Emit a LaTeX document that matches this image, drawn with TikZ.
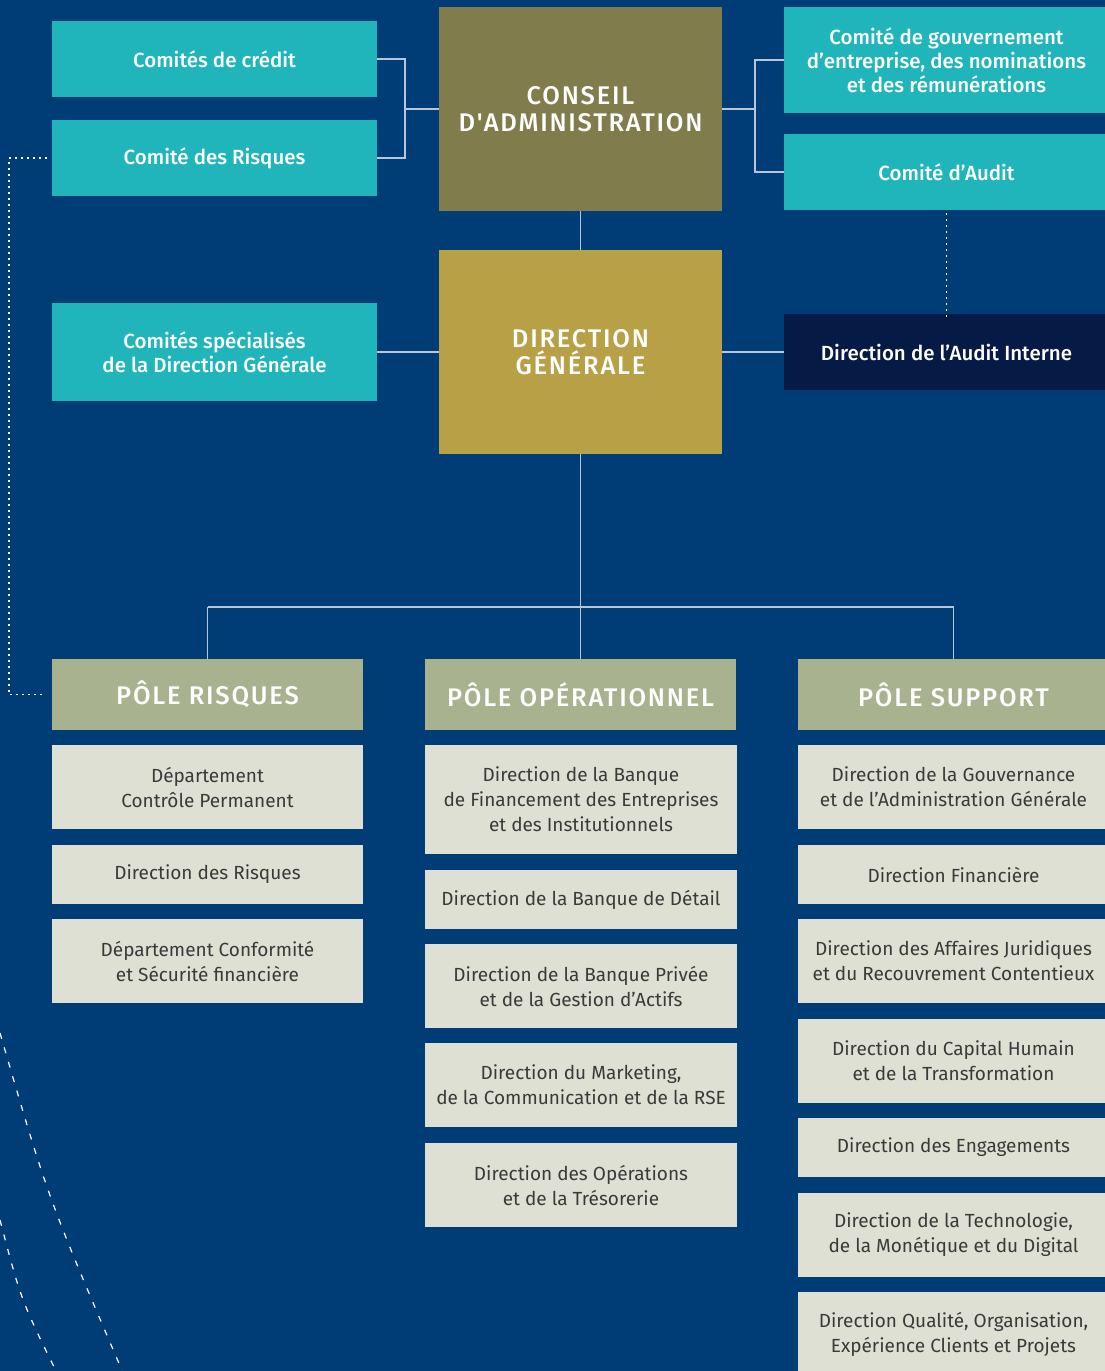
\documentclass[tikz,border=0pt]{standalone}
\usepackage{fontspec}
\setmainfont{Fira Sans}
\newfontfamily\medfont{Fira Sans Medium}
\newfontfamily\headfont[LetterSpace=7]{Fira Sans Medium}
\definecolor{bgblue}{HTML}{003C75}
\definecolor{teal}{HTML}{1FB5BB}
\definecolor{olive}{HTML}{807C4C}
\definecolor{gold}{HTML}{B8A046}
\definecolor{navy}{HTML}{051B45}
\definecolor{pole}{HTML}{A9B28F}
\definecolor{subbox}{HTML}{DFE0D4}
\definecolor{subtext}{HTML}{3A3A3A}
\definecolor{linec}{HTML}{B8C6DA}
\begin{document}
\begin{tikzpicture}[x=1pt,y=-1pt,
  every node/.style={inner sep=0pt, outer sep=0pt, align=center},
  teal box/.style={fill=teal, text=white, minimum width=325pt, font=\medfont\fontsize{20.5}{24}\selectfont},
  big box/.style={minimum width=283pt, minimum height=204pt, text=white, font=\headfont\fontsize{25.5}{27}\selectfont},
  pole box/.style={fill=pole, text=white, minimum width=311pt, minimum height=71pt, font=\headfont\fontsize{25.5}{27}\selectfont},
  sub box/.style={fill=subbox, text=subtext, minimum width=311pt, font=\fontsize{19}{25}\selectfont},
  conn/.style={draw=linec, line width=1.3pt},
  dotline/.style={draw=white, line width=1.6pt, dash pattern=on 1.6pt off 4.4pt},
  arcline/.style={draw=white, line width=1.2pt, dash pattern=on 6pt off 9pt}
]
\fill[bgblue] (0,0) rectangle (1105,1371);
\useasboundingbox (0,0) rectangle (1105,1371);

% dashed arcs
\draw[arcline] (0,1033) .. controls (48,1198) .. (124,1375);
\draw[arcline] (0,1220) .. controls (21,1300) .. (58,1375);

% top nodes
\node[teal box, minimum height=76pt] (cred) at (214.5,59) {Comités de crédit};
\node[teal box, minimum height=76pt] (risq) at (214.5,158) {Comité des Risques};
\node[teal box, minimum height=98pt] (spec) at (214.5,352) {Comités spécialisés\\de la Direction Générale};
\node[big box, fill=olive] (ca) at (580.5,109) {CONSEIL\\D'ADMINISTRATION};
\node[big box, fill=gold] (dg) at (580.5,352) {DIRECTION\\GÉNÉRALE};
\node[teal box, minimum height=106pt] (gouv) at (946.5,60) {Comité de gouvernement\\d’entreprise, des nominations\\et des rémunérations};
\node[teal box, minimum height=76pt] (audit) at (946.5,172) {Comité d’Audit};
\node[teal box, fill=navy, minimum height=76pt] (dai) at (946.5,352) {Direction de l’Audit Interne};

% poles
\node[pole box] (pr) at (207.5,694.5) {PÔLE RISQUES};
\node[pole box] (po) at (580.5,694.5) {PÔLE OPÉRATIONNEL};
\node[pole box] (ps) at (953.5,694.5) {PÔLE SUPPORT};

% sub boxes: risques
\node[sub box, minimum height=84pt] (r1) at (207.5,787) {Département\\Contrôle Permanent};
\node[sub box, minimum height=59pt] (r2) at (207.5,874.5) {Direction des Risques};
\node[sub box, minimum height=84pt] (r3) at (207.5,961) {Département Conformité\\et Sécurité financière};
% operationnel
\node[sub box, minimum width=312pt, minimum height=109pt] (o1) at (581,799.5) {Direction de la Banque\\de Financement des Entreprises\\et des Institutionnels};
\node[sub box, minimum width=312pt, minimum height=59pt] (o2) at (581,899.5) {Direction de la Banque de Détail};
\node[sub box, minimum width=312pt, minimum height=84pt] (o3) at (581,986) {Direction de la Banque Privée\\et de la Gestion d’Actifs};
\node[sub box, minimum width=312pt, minimum height=84pt] (o4) at (581,1085) {Direction du Marketing,\\de la Communication et de la RSE};
\node[sub box, minimum width=312pt, minimum height=84pt] (o5) at (581,1185) {Direction des Opérations\\et de la Trésorerie};
% support
\node[sub box, minimum height=84pt] (s1) at (953.5,787) {Direction de la Gouvernance\\et de l’Administration Générale};
\node[sub box, minimum height=59pt] (s2) at (953.5,874.5) {Direction Financière};
\node[sub box, minimum height=84pt] (s3) at (953.5,961) {Direction des Affaires Juridiques\\et du Recouvrement Contentieux};
\node[sub box, minimum height=84pt] (s4) at (953.5,1061) {Direction du Capital Humain\\et de la Transformation};
\node[sub box, minimum height=59pt] (s5) at (953.5,1147.5) {Direction des Engagements};
\node[sub box, minimum height=84pt] (s6) at (953.5,1235) {Direction de la Technologie,\\de la Monétique et du Digital};
\node[sub box, minimum height=84pt] (s7) at (953.5,1334) {Direction Qualité, Organisation,\\Expérience Clients et Projets};

% connectors
\coordinate (jl) at (405,109);
\coordinate (jr) at (755,109);
\draw[conn] (cred.east) -| (jl) |- (risq.east);
\draw[conn] (jl) -- (ca.west);
\draw[conn] (gouv.west) -| (jr) |- (audit.west);
\draw[conn] (jr) -- (ca.east);
\draw[conn] (ca.south) -- (dg.north);
\draw[conn] (spec.east) -- (dg.west);
\draw[conn] (dg.east) -- (dai.west);
\coordinate (hub) at (580.5,607);
\draw[conn] (dg.south) -- (hub);
\draw[conn] (pr.north |- hub) -- (ps.north |- hub);
\draw[conn] (pr.north |- hub) -- (pr.north);
\draw[conn] (hub) -- (po.north);
\draw[conn] (ps.north |- hub) -- (ps.north);
\draw[dotline] (audit.south) ++(0,3) -- ([yshift=-3pt]dai.north);
\coordinate (d1) at ([xshift=-5pt]risq.west);
\coordinate (d2) at ([xshift=-6pt]pr.west);
\draw[dotline] (d1) -- (9,158) -- (9,694.5) -- (d2);
\end{tikzpicture}
\end{document}
